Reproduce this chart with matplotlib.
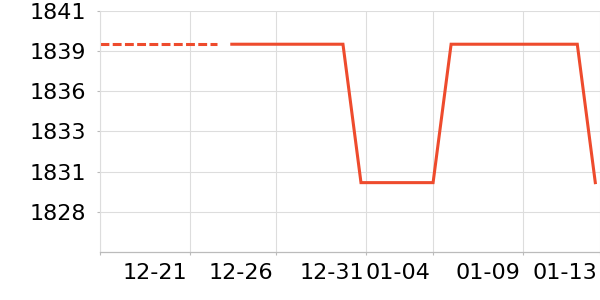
import pandas as pd
import numpy as np
import matplotlib
matplotlib.use('Agg')
import matplotlib.pyplot as plt
import matplotlib.transforms as mtransforms

# 数据
dash_dates = ['2023-12-16 12:30', '2023-12-23 00:00']
dash_values = [1839, 1839]

solid_dates = ['2023-12-23 20:00', '2023-12-30 00:00', '2023-12-31 00:00', '2024-01-04 00:00',
               '2024-01-05 00:00', '2024-01-12 00:00', '2024-01-13 00:00']
solid_values = [1839, 1839, 1830, 1830, 1839, 1839, 1830]

tick_dates = ['2023-12-21 12:00', '2023-12-26 07:00', '2023-12-31 07:00',
              '2024-01-04 00:00', '2024-01-09 00:00', '2024-01-13 06:15']
tick_labels = ['12-21', '12-26', '12-31', '01-04', '01-09', '01-13']

x_range = ['2023-12-16 12:30', '2024-01-13 06:15']
y_range = [1825.47, 1841.18]

color = '#ee4b2d'
grid_color = '#dddddd'


def to_dt(s):
    return pd.to_datetime(s, format='mixed')


fig = plt.figure(figsize=(6, 3), dpi=100)
ax = fig.add_axes([100 / 600, 1 - 252.3 / 300, 500 / 600, (252.3 - 10.7) / 300])

ax.plot(to_dt(dash_dates), dash_values, color=color, lw=2.2,
        dashes=(2.9, 1.1), dash_capstyle='butt')
ax.plot(to_dt(solid_dates), solid_values, color=color, lw=2.2,
        solid_joinstyle='miter')

xl = to_dt(x_range)
ax.set_xlim(xl[0], xl[1])
ax.set_ylim(*y_range)

# x轴刻度（标签右对齐，稍微左移）
ticks = list(to_dt(tick_dates))
ax.set_xticks([xl[0]] + ticks)
ax.set_xticklabels([])
trans = mtransforms.blended_transform_factory(ax.transData, ax.transAxes)
shift = mtransforms.ScaledTranslation(-2.5 / 100, -8 / 72, fig.dpi_scale_trans)
for d, lab in zip(ticks, tick_labels):
    ax.text(d, 0, lab, transform=trans + shift, ha='right', va='top',
            fontsize=16, clip_on=False)

# y轴刻度
yt = np.linspace(y_range[0], y_range[1], 7)[1:]
ax.set_yticks(yt)
ax.set_yticklabels(['%.0f' % v for v in yt])

ax.grid(True, color=grid_color, lw=0.8)
ax.set_axisbelow(True)
for s in ['top', 'right']:
    ax.spines[s].set_visible(False)
ax.spines['left'].set_color(grid_color)
ax.spines['left'].set_linewidth(0.8)
ax.spines['bottom'].set_color('#bbbbbb')
ax.spines['bottom'].set_linewidth(0.9)

ax.tick_params(axis='both', labelsize=16, color='#bbbbbb', length=2, width=0.8)
ax.tick_params(axis='y', pad=8)

fig.savefig('out.png', dpi=100)
